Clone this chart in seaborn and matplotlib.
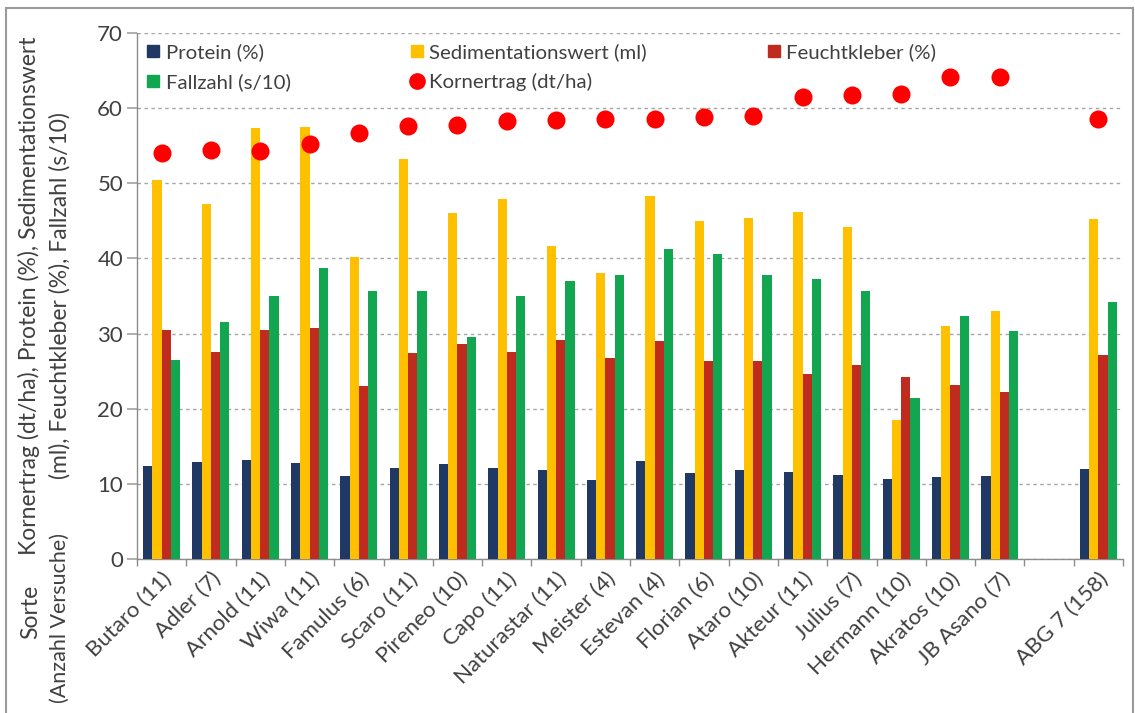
import seaborn as sns
import matplotlib.pyplot as plt
from matplotlib.lines import Line2D
from matplotlib.patches import Rectangle
import pandas as pd

# Sorten (Anzahl Versuche)
sorten = ['Butaro (11)', 'Adler (7)', 'Arnold (11)', 'Wiwa (11)', 'Famulus (6)',
          'Scaro (11)', 'Pireneo (10)', 'Capo (11)', 'Naturastar (11)', 'Meister (4)',
          'Estevan (4)', 'Florian (6)', 'Ataro (10)', 'Akteur (11)', 'Julius (7)',
          'Hermann (10)', 'Akratos (10)', 'JB Asano (7)', 'ABG 7 (158)']

protein = [12.4, 12.9, 13.2, 12.8, 11.0, 12.1, 12.6, 12.1, 11.8, 10.5,
           13.1, 11.5, 11.9, 11.6, 11.2, 10.7, 10.9, 11.0, 12.0]
sediment = [50.5, 47.2, 57.3, 57.5, 40.2, 53.2, 46.1, 47.9, 41.7, 38.0,
            48.3, 45.0, 45.4, 46.2, 44.2, 18.5, 31.0, 33.0, 45.3]
feuchtkleber = [30.5, 27.5, 30.5, 30.7, 23.0, 27.4, 28.6, 27.6, 29.1, 26.8,
                29.0, 26.3, 26.4, 24.6, 25.8, 24.2, 23.2, 22.2, 27.2]
fallzahl = [26.5, 31.5, 35.0, 38.7, 35.7, 35.7, 29.5, 35.0, 37.0, 37.8,
            41.2, 40.6, 37.8, 37.3, 35.6, 21.4, 32.4, 30.4, 34.2]
kornertrag = [54.0, 54.4, 54.3, 55.2, 56.7, 57.6, 57.8, 58.3, 58.4, 58.6,
              58.6, 58.8, 59.0, 61.5, 61.8, 61.9, 64.1, 64.1, 58.6]

serien = ['Protein (%)', 'Sedimentationswert (ml)', 'Feuchtkleber (%)', 'Fallzahl (s/10)']
farben = ['#1F3864', '#FFC000', '#BF2B1E', '#12A650']
punkt_farbe = '#FF0000'

# leere Position vor dem Mittelwert
order = sorten[:18] + [' '] + sorten[18:]

df = pd.DataFrame({'Sorte': sorten, serien[0]: protein, serien[1]: sediment,
                   serien[2]: feuchtkleber, serien[3]: fallzahl})
df_long = df.melt(id_vars='Sorte', var_name='Merkmal', value_name='Wert')
df_k = pd.DataFrame({'Sorte': sorten, 'Kornertrag': kornertrag})

sns.set_theme(style="white")
plt.rcParams['font.family'] = ['Lato', 'DejaVu Sans']

fig = plt.figure(figsize=(11.35, 7.13), dpi=100)
ax = fig.add_axes([137 / 1135, 1 - 559 / 713, (1123 - 137) / 1135, (559 - 33) / 713])

sns.barplot(data=df_long, x='Sorte', y='Wert', hue='Merkmal', order=order,
            hue_order=serien, palette=farben, width=0.75, linewidth=0,
            saturation=1, ax=ax, legend=False, zorder=3)
sns.stripplot(data=df_k, x='Sorte', y='Kornertrag', order=order, jitter=False,
              color=punkt_farbe, size=13, linewidth=0, ax=ax, zorder=4)

ax.set_xlim(-0.5, len(order) - 0.5)
ax.set_ylim(0, 70)
ax.set_yticks(range(0, 71, 10))
ax.yaxis.grid(True, linestyle=(0, (2.5, 2.5)), color='#A6A6A6', linewidth=1, zorder=0)
ax.set_axisbelow(True)
ax.set_xlabel('')
ax.set_ylabel('')

for s in ['top', 'right']:
    ax.spines[s].set_visible(False)
for s in ['left', 'bottom']:
    ax.spines[s].set_color('#8C8C8C')
    ax.spines[s].set_linewidth(1)

ax.tick_params(axis='y', labelsize=16, labelcolor='#404040', length=7,
               color='#A6A6A6', direction='out', pad=3, left=True)
ax.set_xticks(range(len(order)))
ax.set_xticklabels(order, rotation=45, ha='right', rotation_mode='anchor',
                   fontsize=16, color='#404040')
ax.tick_params(axis='x', length=0, pad=7)
ax.set_xticks([i - 0.5 for i in range(len(order) + 1)], minor=True)
ax.tick_params(axis='x', which='minor', length=5, color='#8C8C8C',
               direction='out', bottom=True)

# Legende
handles = [Line2D([], [], marker='s', linestyle='', color=farben[0], markersize=8),
           Line2D([], [], marker='s', linestyle='', color=farben[3], markersize=8),
           Line2D([], [], marker='s', linestyle='', color=farben[1], markersize=8),
           Line2D([], [], marker='o', linestyle='', color=punkt_farbe, markersize=11),
           Line2D([], [], marker='s', linestyle='', color=farben[2], markersize=8)]
labels = [serien[0], serien[3], serien[1], 'Kornertrag (dt/ha)', serien[2]]
leg = ax.legend(handles, labels, ncol=3, frameon=False, fontsize=14.7,
                loc='upper left', bbox_to_anchor=(0.0, 1.0), handlelength=0.6,
                handletextpad=0.3, columnspacing=5.9, labelspacing=0.6,
                borderaxespad=0.1)
for t in leg.get_texts():
    t.set_color('#404040')

# Achsentitel, jede Zeile einzeln
txt = dict(rotation=90, ha='center', va='center', fontsize=16.5, color='#404040')
fig.text(29 / 1135, 1 - 296 / 713,
         'Kornertrag (dt/ha), Protein (%), Sedimentationswert', **txt)
fig.text(60 / 1135, 1 - 296 / 713,
         '(ml), Feuchtkleber (%), Fallzahl (s/10)', **txt)
fig.text(31 / 1135, 1 - 612 / 713, 'Sorte', **txt)
fig.text(60 / 1135, 1 - 618 / 713, '(Anzahl Versuche)',
         **{**txt, 'fontsize': 15.5})

# Rahmen
fig.patches.append(Rectangle((6 / 1135, -0.05), 1127 / 1135, 1.05 - 8 / 713,
                             transform=fig.transFigure, fill=False,
                             edgecolor='#9A9A9A', linewidth=1.5))

fig.savefig('out.png', dpi=100)
